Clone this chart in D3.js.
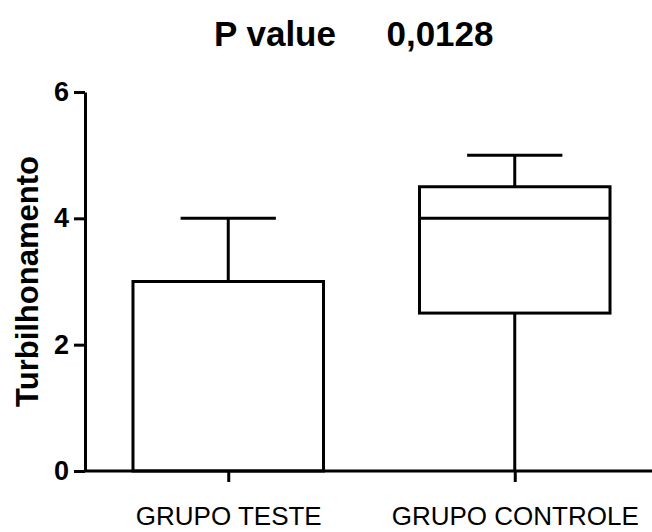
<!DOCTYPE html>
<meta charset="utf-8">
<title>P value 0,0128</title>
<style>
  body { margin: 0; background: #fff; }
  svg { font-family: "Liberation Sans", Arial, sans-serif; }
  .axis path, .axis line { stroke: #000; stroke-width: 3; }
  .axis text { fill: #000; }
  .box { fill: none; stroke: #000; stroke-width: 3; }
</style>
<body>
<svg width="652" height="532" id="chart"></svg>
<script src="https://d3js.org/d3.v7.min.js"></script>
<script>
// box plot values
var groups  = ["GRUPO TESTE", "GRUPO CONTROLE"];
var mins    = [0, 0];
var q1s     = [0, 2.5];
var medians = [3, 4];
var q3s     = [3, 4.5];
var maxs    = [4, 5];
var yTicks  = [0, 2, 4, 6];

var svg = d3.select("#chart");

var x = d3.scalePoint()
    .domain(groups)
    .range([85, 658])
    .padding(0.5);

var y = d3.scaleLinear()
    .domain([0, 6])
    .range([471, 92]);

var boxW = x.step() * 0.665,
    capW = boxW / 2;

var data = groups.map(function(g, i) {
  return {name: g, min: mins[i], q1: q1s[i], med: medians[i], q3: q3s[i], max: maxs[i]};
});

/* title */
svg.append("text")
    .attr("x", 275).attr("y", 46)
    .attr("text-anchor", "middle")
    .attr("font-weight", "bold")
    .attr("font-size", 35)
    .text("P value");
svg.append("text")
    .attr("x", 440).attr("y", 46)
    .attr("text-anchor", "middle")
    .attr("font-weight", "bold")
    .attr("font-size", 35)
    .text("0,0128");

/* y axis title */
svg.append("text")
    .attr("transform", "translate(38," + ((y(0) + y(6)) / 2) + ") rotate(-90)")
    .attr("text-anchor", "middle")
    .attr("font-weight", "bold")
    .attr("font-size", 31)
    .text("Turbilhonamento");

var g = svg.selectAll(".grp")
    .data(data)
  .enter().append("g")
    .attr("class", "grp");

// whiskers
g.append("line").attr("class", "box")
    .attr("x1", function(d) { return x(d.name); })
    .attr("x2", function(d) { return x(d.name); })
    .attr("y1", function(d) { return y(d.q3); })
    .attr("y2", function(d) { return y(d.max); });
g.append("line").attr("class", "box")
    .attr("x1", function(d) { return x(d.name); })
    .attr("x2", function(d) { return x(d.name); })
    .attr("y1", function(d) { return y(d.min); })
    .attr("y2", function(d) { return y(d.q1); });
g.append("line").attr("class", "box")
    .attr("x1", function(d) { return x(d.name) - capW / 2; })
    .attr("x2", function(d) { return x(d.name) + capW / 2; })
    .attr("y1", function(d) { return y(d.max); })
    .attr("y2", function(d) { return y(d.max); });

// box
g.append("rect").attr("class", "box")
    .attr("x", function(d) { return x(d.name) - boxW / 2; })
    .attr("width", boxW)
    .attr("y", function(d) { return y(d.q3); })
    .attr("height", function(d) { return y(d.q1) - y(d.q3); });

// median
g.append("line").attr("class", "box")
    .attr("x1", function(d) { return x(d.name) - boxW / 2; })
    .attr("x2", function(d) { return x(d.name) + boxW / 2; })
    .attr("y1", function(d) { return y(d.med); })
    .attr("y2", function(d) { return y(d.med); });

/* axes */
svg.append("g")
    .attr("class", "axis")
    .attr("transform", "translate(85,0)")
    .call(d3.axisLeft(y).tickValues(yTicks).tickFormat(d3.format("d"))
      .tickSize(11).tickSizeOuter(0).tickPadding(5))
    .selectAll("text")
    .attr("font-size", 27)
    .attr("font-weight", "bold")
    .attr("font-family", "Liberation Sans, Arial, sans-serif");

var xa = svg.append("g")
    .attr("class", "axis")
    .attr("transform", "translate(0," + y(0) + ")")
    .call(d3.axisBottom(x).tickSize(11).tickSizeOuter(0).tickPadding(25));
xa.selectAll("text")
    .attr("font-size", 26)
    .attr("font-family", "Liberation Sans, Arial, sans-serif");
xa.select(".domain").attr("d", "M85,0H652");
</script>
</body>
